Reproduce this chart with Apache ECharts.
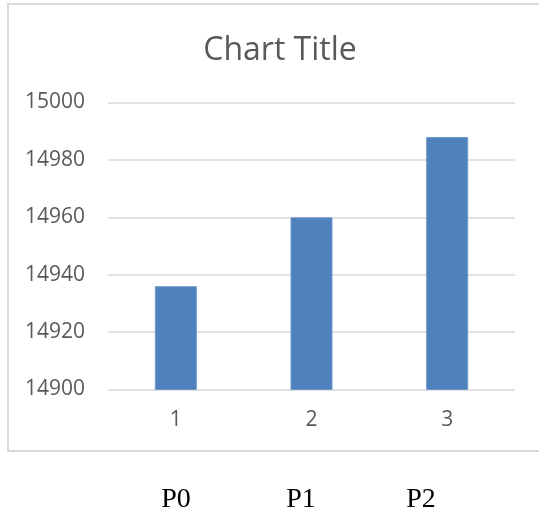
<!DOCTYPE html>
<html>
<head>
<meta charset="utf-8">
<style>
  html, body { margin: 0; padding: 0; background: #ffffff; }
  #chart { width: 539px; height: 512px; }
</style>
<script src="https://cdn.jsdelivr.net/npm/echarts@6/dist/echarts.min.js"></script>
</head>
<body>
<div id="chart"></div>
<script>
// Category axis and bar values
const categories = ['1', '2', '3'];
const values = [14936, 14960, 14988];
// Value axis range
const yMin = 14900;
const yMax = 15000;
const yStep = 20;
// Labels printed under the chart frame
const pointLabels = ['P0', 'P1', 'P2'];
const pointLabelX = [176, 301, 421];

const chart = echarts.init(document.getElementById('chart'), null, { renderer: 'canvas' });

const sans = '"Open Sans", "Noto Sans", sans-serif';
const serif = '"Liberation Serif", "DejaVu Serif", serif';

const graphics = [
  {
    type: 'rect',
    silent: true,
    z: -1,
    shape: { x: 8, y: 4, width: 560, height: 447 },
    style: { fill: '#ffffff', stroke: '#d9d9d9', lineWidth: 2 }
  }
];
pointLabels.forEach((t, i) => {
  graphics.push({
    type: 'text',
    x: pointLabelX[i],
    y: 514,
    style: {
      text: t,
      font: '28px ' + serif,
      fill: '#000000',
      textAlign: 'center',
      textVerticalAlign: 'bottom'
    }
  });
});

chart.setOption({
  animation: false,
  backgroundColor: '#ffffff',
  title: {
    text: 'Chart Title',
    left: 275,
    textAlign: 'center',
    top: 30,
    textStyle: {
      fontFamily: sans,
      fontSize: 32,
      fontWeight: 'normal',
      color: '#595959'
    }
  },
  grid: {
    left: 108,
    right: 24,
    top: 102.5,
    bottom: 122.5,
    containLabel: false
  },
  xAxis: {
    type: 'category',
    data: categories,
    axisLine: { show: false },
    axisTick: { show: false },
    axisLabel: {
      margin: 20,
      fontFamily: sans,
      fontSize: 21,
      color: '#595959'
    }
  },
  yAxis: {
    type: 'value',
    min: yMin,
    max: yMax,
    interval: yStep,
    axisLine: { show: false },
    axisTick: { show: false },
    axisLabel: {
      margin: 23,
      fontFamily: sans,
      fontSize: 21,
      color: '#595959',
      formatter: (v) => String(v)
    },
    splitLine: { lineStyle: { color: '#d9d9d9', width: 1.5 } }
  },
  series: [
    {
      type: 'bar',
      data: values,
      barWidth: 42,
      itemStyle: { color: '#4f81bd', borderColor: '#6f98cb', borderWidth: 1 }
    }
  ],
  graphic: graphics
});
</script>
</body>
</html>
